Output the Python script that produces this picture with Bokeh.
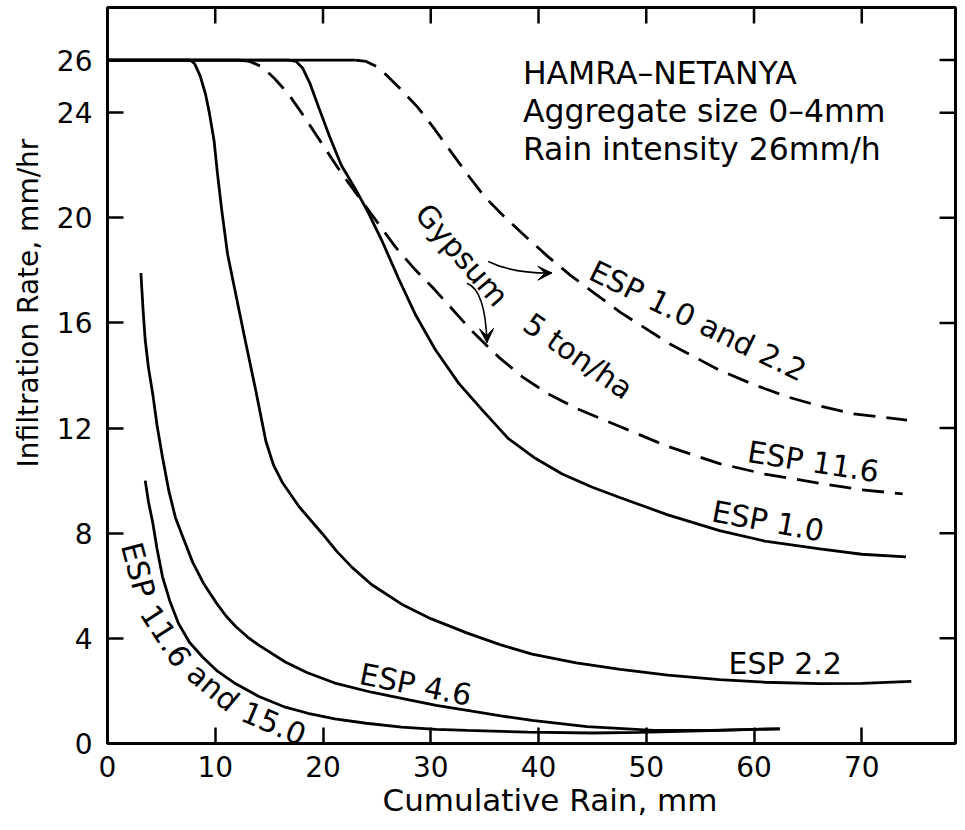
from bokeh.plotting import figure
from bokeh.models import Range1d, FixedTicker, Title, Arrow, VeeHead, ColumnDataSource
from bokeh.core.properties import value
from bokeh.embed import file_html
from bokeh.resources import INLINE
import math

FONT = "DejaVu Sans"

# ---------------- data ----------------
x_esp22 = [0, 7.7, 8.1, 8.6, 9.1, 9.45, 9.9, 10.2, 10.6, 11.15, 11.9, 12.8, 13.75, 14.7, 15.4, 16.2,
           17.8, 19.9, 21.3, 22.7, 24.5, 27.3, 30.0, 33.4, 36.5, 39.4, 43.5, 47.6, 52.0, 56.8, 61.0,
           66.1, 70.0, 74.6]
y_esp22 = [26, 26, 25.85, 25.4, 24.7, 24.0, 22.9, 21.7, 20.3, 18.6, 17.1, 15.3, 13.45, 11.5, 10.6, 9.95,
           9.0, 8.0, 7.3, 6.7, 6.05, 5.3, 4.75, 4.2, 3.75, 3.4, 3.07, 2.82, 2.6, 2.43, 2.33,
           2.28, 2.29, 2.36]

x_esp10 = [0, 16.8, 17.5, 18.1, 18.8, 19.6, 20.6, 21.7, 23.0, 24.2, 25.5, 27.0, 28.6, 30.4, 32.6,
           34.75, 37.2, 39.7, 42.2, 45.0, 47.6, 52.0, 56.8, 61.0, 66.1, 70.0, 74.1]
y_esp10 = [26, 26, 25.95, 25.7, 25.1, 24.2, 23.1, 22.0, 21.1, 20.2, 19.1, 17.7, 16.3, 15.0, 13.7,
           12.7, 11.6, 10.85, 10.25, 9.75, 9.35, 8.7, 8.1, 7.7, 7.4, 7.2, 7.1]

x_gyp116 = [0, 12.2, 13.2, 14.3, 15.5, 16.8, 18.0, 19.3, 21.7, 24.2, 26.7, 28.5, 30.4, 33.8, 36.3,
            38.5, 40.9, 43.5, 47.6, 52.0, 56.8, 61.0, 66.1, 70.0, 73.8]
y_gyp116 = [26, 26, 25.95, 25.75, 25.3, 24.7, 24.0, 23.2, 21.7, 20.3, 18.9, 18.05, 17.25, 15.7, 14.7,
            13.95, 13.3, 12.75, 12.05, 11.3, 10.65, 10.25, 9.9, 9.65, 9.5]

x_gyp1022 = [0, 23.0, 24.0, 25.0, 25.7, 27.2, 28.8, 30.4, 31.9, 33.5, 35.0, 36.8, 38.5, 40.8, 43.0,
             45.3, 47.6, 52.2, 56.8, 60.0, 63.0, 66.0, 69.1, 74.2]
y_gyp1022 = [26, 26, 25.95, 25.75, 25.5, 24.9, 24.2, 23.35, 22.5, 21.6, 20.8, 20.05, 19.4, 18.55, 17.8,
             17.1, 16.4, 15.2, 14.2, 13.65, 13.2, 12.85, 12.55, 12.3]

x_esp46 = [3.1, 3.3, 3.5, 3.8, 4.2, 4.6, 5.1, 5.7, 6.3, 7.0, 7.9, 8.9, 10.1, 11.0, 11.9, 13.0, 14.0,
           16.5, 18.5, 21.1, 24.5, 27.3, 30.5, 33.4, 36.5, 39.4, 44.5, 50.7, 56.0, 62.4]
y_esp46 = [17.9, 16.5, 15.35, 14.3, 13.3, 12.1, 10.9, 9.6, 8.6, 7.85, 6.9, 6.1, 5.35, 4.85, 4.45, 4.05,
           3.75, 3.1, 2.7, 2.3, 1.95, 1.72, 1.45, 1.26, 1.05, 0.88, 0.64, 0.5, 0.5, 0.56]

x_esp116_150 = [3.5, 3.8, 4.2, 4.6, 5.1, 5.8, 6.6, 7.6, 8.8, 10.2, 11.9, 14.0, 16.5, 18.6, 21.1, 24.0,
                27.3, 30.5, 33.4, 39.0, 45.0, 49.4, 55.0, 62.4]
y_esp116_150 = [10.0, 9.2, 8.4, 7.4, 6.35, 5.4, 4.56, 3.85, 3.3, 2.75, 2.27, 1.8, 1.38, 1.15, 0.94, 0.77,
                0.62, 0.54, 0.5, 0.43, 0.4, 0.42, 0.48, 0.56]

x_ticks = [0, 10, 20, 30, 40, 50, 60, 70]
y_ticks = [0, 4, 8, 12, 16, 20, 24, 26]

info_lines = ["HAMRA\u2013NETANYA", "Aggregate size 0\u20134mm", "Rain intensity 26mm/h"]
info_x = [38.55, 38.55, 38.55]
info_y = [25.5, 24.05, 22.6]

lab_text = ["Gypsum", "5 ton/ha", "ESP 1.0 and 2.2", "ESP 11.6", "ESP 1.0", "ESP 2.2", "ESP 4.6",
            "ESP", "11.6", "and", "15.0"]
lab_x = [32.9, 43.7, 54.8, 65.5, 61.3, 62.9, 28.6, 2.85, 5.45, 9.8, 15.45]
lab_y = [18.59, 14.74, 16.08, 10.72, 8.46, 3.05, 2.24, 6.6, 4.1, 2.15, 0.78]
lab_angle = [-49, -35, -26, -9, -10.4, 0, -11.3, -75, -57, -40, -23]

# curved arrows (quadratic): start, control, end
arr_x0 = [35.34, 33.36]
arr_y0 = [18.34, 17.51]
arr_cx = [37.6, 35.06]
arr_cy = [17.88, 17.26]
arr_x1 = [41.24, 35.22]
arr_y1 = [17.9, 15.25]

X_MAX = 78.7
Y_MAX = 28.0

# ---------------- figure ----------------
W, H = 958, 824
BL, BR, BT, BB = 105, 3, 7, 81
p = figure(width=W, height=H, x_range=Range1d(0, X_MAX), y_range=Range1d(0, Y_MAX),
           output_backend="svg", toolbar_location=None,
           min_border_left=BL, min_border_right=BR, min_border_top=BT, min_border_bottom=BB)
p.xgrid.visible = False
p.ygrid.visible = False
p.outline_line_color = "black"
p.outline_line_width = 3
p.background_fill_color = "white"
p.border_fill_color = "white"

TICK_IN = 16
for ax, ticks in ((p.xaxis[0], x_ticks), (p.yaxis[0], y_ticks)):
    ax.ticker = FixedTicker(ticks=ticks)
    ax.major_tick_in = TICK_IN
    ax.major_tick_out = 0
    ax.minor_tick_line_color = None
    ax.major_tick_line_width = 2.5
    ax.major_tick_line_color = "black"
    ax.axis_line_width = 3
    ax.axis_line_color = "black"
    ax.major_label_text_font = FONT
    ax.major_label_text_color = "black"
    ax.major_label_text_font_size = "28px"
p.xaxis[0].major_label_standoff = 12
p.yaxis[0].major_label_standoff = 15

# inward ticks on the top and right frame edges
frame_w = W - BL - BR
frame_h = H - BT - BB
dy_tick = TICK_IN * Y_MAX / frame_h
dx_tick = TICK_IN * X_MAX / frame_w
top_x = x_ticks[1:]
p.segment(x0=top_x, y0=[Y_MAX] * len(top_x), x1=top_x, y1=[Y_MAX - dy_tick] * len(top_x),
          line_color="black", line_width=2.5)
right_y = y_ticks[1:]
p.segment(x0=[X_MAX] * len(right_y), y0=right_y, x1=[X_MAX - dx_tick] * len(right_y), y1=right_y,
          line_color="black", line_width=2.5)

p.add_layout(Title(text="Cumulative Rain, mm", align="left", offset=275, standoff=0,
                   text_font=FONT, text_font_size="31px", text_font_style="normal",
                   text_color="black"), "below")
p.add_layout(Title(text="Infiltration Rate, mm/hr", align="left", offset=276, standoff=18,
                   text_font=FONT, text_font_size="28px", text_font_style="normal",
                   text_color="black"), "left")

LW = 2.8
DASH = "22 11"
p.line(x_esp22, y_esp22, line_color="black", line_width=LW)
p.line(x_esp10, y_esp10, line_color="black", line_width=LW)
p.line(x_esp46, y_esp46, line_color="black", line_width=LW)
p.line(x_esp116_150, y_esp116_150, line_color="black", line_width=LW)
for gx, gy in ((x_gyp116, y_gyp116), (x_gyp1022, y_gyp1022)):
    p.line(gx[:2], gy[:2], line_color="black", line_width=LW)
    p.line(gx[1:], gy[1:], line_color="black", line_width=LW, line_dash=DASH)

# arrows
p.quadratic(x0=arr_x0, y0=arr_y0, x1=arr_x1, y1=arr_y1, cx=arr_cx, cy=arr_cy,
            line_color="black", line_width=1.6)
for i in range(len(arr_x1)):
    dx = arr_x1[i] - arr_cx[i]
    dy = arr_y1[i] - arr_cy[i]
    n = math.hypot(dx, dy)
    p.add_layout(Arrow(end=VeeHead(size=14, fill_color="black", line_color="black", line_width=1),
                       x_start=arr_x1[i] - 0.3 * dx / n, y_start=arr_y1[i] - 0.3 * dy / n,
                       x_end=arr_x1[i], y_end=arr_y1[i], line_width=1.6, line_color="black"))

# texts
info_src = ColumnDataSource(dict(x=info_x, y=info_y, text=info_lines))
p.text(x="x", y="y", text="text", source=info_src, text_font=value(FONT), text_font_size="31.5px",
       text_align="left", text_baseline="middle", text_color="black")

lab_src = ColumnDataSource(dict(x=lab_x, y=lab_y, text=lab_text, angle=lab_angle))
p.text(x="x", y="y", text="text", angle="angle", angle_units="deg", source=lab_src,
       text_font=value(FONT), text_font_size="30px", text_align="center",
       text_baseline="middle", text_color="black")

open("out.html", "w").write(file_html(p, INLINE))
